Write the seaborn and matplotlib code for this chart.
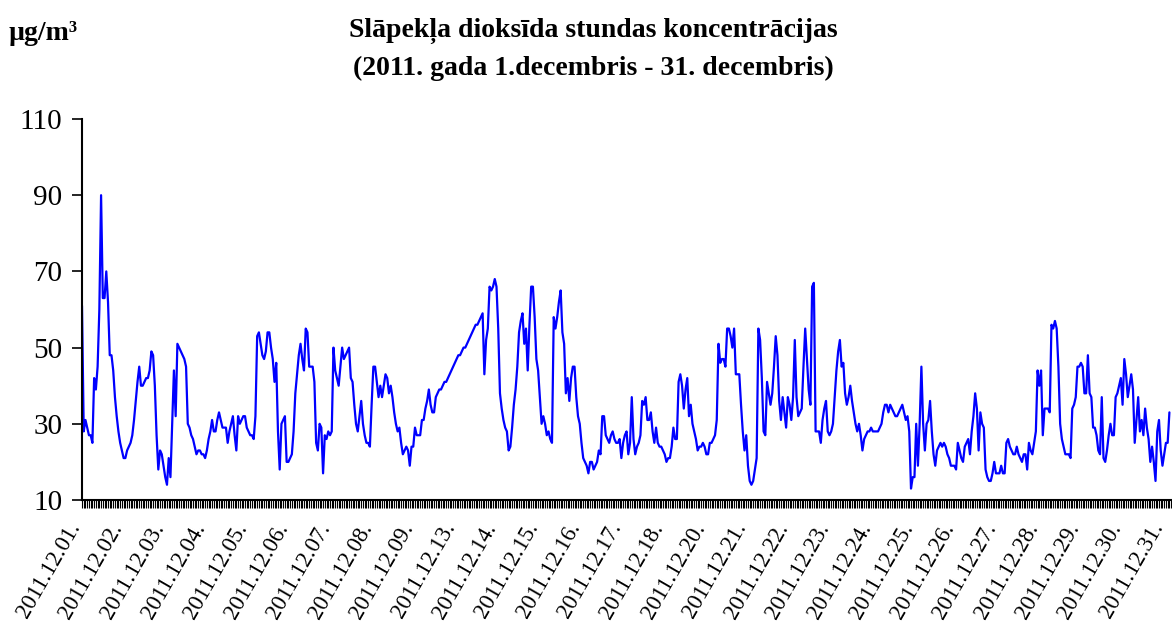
import numpy as np
import pandas as pd
import matplotlib
matplotlib.use("Agg")
import matplotlib.pyplot as plt
from matplotlib.transforms import ScaledTranslation
import seaborn as sns

sns.set_theme(style="white")
plt.rcParams['font.family'] = ['Liberation Serif', 'DejaVu Serif']
plt.rcParams['text.color'] = 'black'
plt.rcParams['xtick.color'] = 'black'
plt.rcParams['ytick.color'] = 'black'

# day labels on the category axis (one label every 24 hourly values)
dates = ["2011.12.01.", "2011.12.02.", "2011.12.03.", "2011.12.04.", "2011.12.05.",
         "2011.12.06.", "2011.12.07.", "2011.12.08.", "2011.12.09.", "2011.12.13.",
         "2011.12.14.", "2011.12.15.", "2011.12.16.", "2011.12.17.", "2011.12.18.",
         "2011.12.20.", "2011.12.21.", "2011.12.22.", "2011.12.23.", "2011.12.24.",
         "2011.12.25.", "2011.12.26.", "2011.12.27.", "2011.12.28.", "2011.12.29.",
         "2011.12.30.", "2011.12.31."]

# hourly NO2, ug/m3
d01 = [61, 28, 31, 29, 27, 27, 25, 42, 39, 45, 60, 90, 63, 63, 70, 62, 48, 48, 44, 37, 32, 28, 25, 23]
d02 = [21, 21, 23, 24, 25, 27, 31, 36, 41, 45, 40, 40, 41, 42, 42, 44, 49, 48, 40, 27, 18, 23, 22, 19]
d03 = [16, 14, 21, 16, 30, 44, 32, 51, 50, 49, 48, 47, 45, 30, 29, 27, 26, 24, 22, 23, 23, 22, 22, 21]
d04 = [23, 26, 28, 31, 28, 28, 31, 33, 31, 29, 29, 29, 25, 28, 30, 32, 27, 23, 32, 30, 31, 32, 32, 29]
d05 = [28, 27, 27, 26, 32, 53, 54, 51, 48, 47, 49, 54, 54, 50, 47, 41, 46, 28, 18, 30, 31, 32, 20, 20]
d06 = [21, 22, 28, 38, 43, 48, 51, 47, 44, 55, 54, 45, 45, 45, 41, 25, 23, 30, 29, 17, 27, 26, 28, 27]
d07 = [28, 50, 44, 42, 40, 45, 50, 47, 48, 49, 50, 42, 41, 35, 30, 28, 32, 36, 30, 27, 25, 25, 24, 35]
d08 = [45, 45, 41, 37, 40, 37, 40, 43, 42, 38, 40, 37, 33, 30, 28, 29, 25, 22, 23, 24, 23, 19, 24, 24]
d09 = [29, 27, 27, 27, 31, 31, 34, 36, 39, 35, 33, 33, 37, 38, 39, 39, 40, 41, 41, 42, 43, 44, 45, 46]
d13 = [47, 48, 48, 49, 50, 50, 51, 52, 53, 54, 55, 56, 56, 57, 58, 59, 43, 52, 55, 66, 65, 66, 68, 66]
d14 = [55, 38, 34, 31, 29, 28, 23, 24, 29, 35, 39, 45, 54, 57, 59, 51, 55, 44, 56, 66, 66, 58, 47, 44]
d15 = [37, 30, 32, 30, 27, 28, 26, 25, 58, 55, 58, 62, 65, 54, 51, 38, 42, 36, 42, 45, 45, 37, 32, 30]
d16 = [25, 21, 20, 19, 17, 20, 20, 18, 19, 20, 23, 22, 32, 32, 27, 26, 25, 27, 28, 26, 25, 25, 26, 21]
d17 = [25, 27, 28, 22, 25, 37, 26, 22, 24, 25, 27, 36, 35, 37, 31, 31, 33, 28, 25, 29, 25, 24, 24, 23]
d18 = [22, 20, 21, 21, 24, 29, 26, 26, 41, 43, 40, 34, 39, 42, 32, 35, 30, 28, 26, 23, 24, 24, 25, 24]
d20 = [22, 22, 25, 25, 26, 27, 31, 51, 46, 47, 47, 45, 55, 55, 53, 50, 55, 43, 43, 43, 35, 28, 23, 27]
d21 = [19, 15, 14, 15, 18, 21, 55, 52, 42, 28, 27, 41, 38, 35, 38, 45, 53, 48, 36, 31, 37, 33, 29, 37]
d22 = [35, 31, 37, 52, 37, 32, 33, 34, 45, 55, 47, 39, 35, 66, 67, 28, 28, 28, 25, 31, 34, 36, 28, 27]
d23 = [28, 30, 37, 44, 49, 52, 45, 46, 38, 35, 37, 40, 36, 33, 30, 28, 30, 27, 23, 26, 27, 28, 28, 29]
d24 = [28, 28, 28, 28, 29, 30, 33, 35, 35, 33, 35, 34, 33, 32, 32, 33, 34, 35, 33, 31, 32, 28, 13, 16]
d25 = [16, 30, 19, 30, 45, 30, 23, 30, 31, 36, 28, 22, 19, 23, 24, 25, 24, 25, 24, 22, 21, 19, 19, 19]
d26 = [18, 25, 23, 21, 20, 24, 25, 26, 22, 28, 32, 38, 34, 23, 33, 30, 29, 18, 16, 15, 15, 17, 20, 17]
d27 = [17, 17, 19, 17, 17, 25, 26, 24, 23, 22, 22, 24, 22, 21, 20, 22, 22, 18, 25, 23, 22, 25, 28, 44]
d28 = [40, 44, 27, 34, 34, 34, 33, 56, 55, 57, 55, 45, 30, 26, 24, 22, 22, 22, 21, 34, 35, 37, 45, 45]
d29 = [46, 45, 38, 38, 48, 38, 37, 29, 29, 27, 23, 22, 37, 21, 20, 23, 27, 30, 27, 27, 37, 38, 40, 42]
d30 = [35, 47, 43, 37, 40, 43, 39, 25, 31, 37, 28, 31, 27, 34, 29, 26, 20, 24, 20, 15, 28, 31, 23, 19]
d31 = [22, 25, 25, 33]

values = (d01 + d02 + d03 + d04 + d05 + d06 + d07 + d08 + d09 + d13 + d14 + d15 + d16
          + d17 + d18 + d20 + d21 + d22 + d23 + d24 + d25 + d26 + d27 + d28 + d29 + d30 + d31)
df = pd.DataFrame({"hour": np.arange(len(values)), "no2": values})

fig = plt.figure(figsize=(11.72, 6.30), dpi=100)
ax = fig.add_axes([82 / 1172, 130 / 630, 1090 / 1172, 381 / 630])

sns.lineplot(data=df, x="hour", y="no2", ax=ax, color="#0000ff", linewidth=1.6)

ax.set_xlim(0, 628.5)
ax.set_ylim(10, 110)
ax.set_yticks([10, 30, 50, 70, 90, 110])
ax.set_xticks(np.arange(0, len(values), 24))
ax.set_xticklabels(dates, rotation=60, ha="right", va="center", rotation_mode="anchor")
ax.set_xticks(np.arange(0, len(values) + 1), minor=True)
ax.set_xlabel("")
ax.set_ylabel("")

for side in ["top", "right"]:
    ax.spines[side].set_visible(False)
for side in ["left", "bottom"]:
    ax.spines[side].set_color("black")
    ax.spines[side].set_linewidth(1.5)

ax.tick_params(axis="y", which="major", left=True, length=7.2, width=1.2, color="black",
               labelsize=21, pad=7)
ax.tick_params(axis="x", which="both", bottom=True, length=5.4, width=0.8, color="black",
               direction="out")
ax.tick_params(axis="x", which="major", labelsize=16.5, pad=12)

# shift day labels a bit to the left of their tick
shift = ScaledTranslation(-6 / 100, 0, fig.dpi_scale_trans)
for lab in ax.get_xticklabels():
    lab.set_transform(lab.get_transform() + shift)

fig.text(593 / 1172, 1 - 31 / 630, "Slāpekļa dioksīda stundas koncentrācijas",
         ha="center", va="center", fontsize=20, fontweight="bold")
fig.text(593 / 1172, 1 - 68 / 630, "(2011. gada 1.decembris - 31. decembris)",
         ha="center", va="center", fontsize=20, fontweight="bold")
fig.text(9 / 1172, 1 - 34 / 630, "µg/m³", ha="left", va="center", fontsize=20,
         fontweight="bold")

plt.savefig("out.png", dpi=100)
